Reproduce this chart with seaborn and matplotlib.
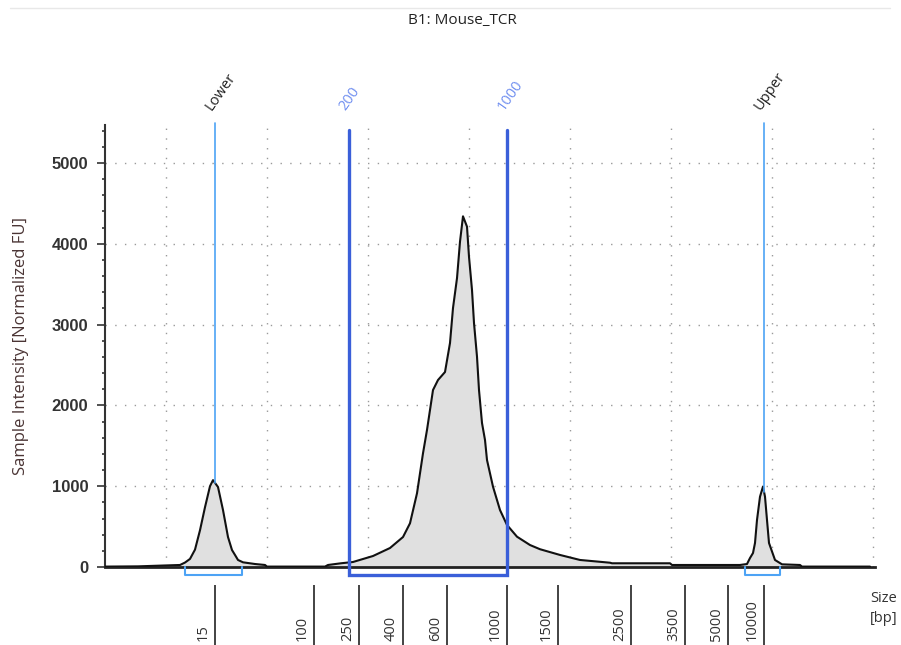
import numpy as np
import pandas as pd
import matplotlib
matplotlib.use("Agg")
import matplotlib.pyplot as plt
import matplotlib.transforms as mtransforms
from matplotlib.lines import Line2D
import seaborn as sns

# electropherogram trace (migration position, normalized FU)
trace_pos = [0, 33, 75, 80, 85, 90, 95, 100, 105, 108, 113, 118, 123, 127, 130, 133,
             138, 150, 160, 162, 220, 223, 236, 248, 268, 285, 298, 305, 312, 318,
             322, 325, 328, 333, 340, 345, 348, 352, 355, 358, 362, 364, 367, 369,
             372, 374, 377, 380, 382, 388, 395, 402, 412, 425, 435, 455, 475, 505,
             507, 565, 567, 635, 642, 645, 648, 650, 652, 655, 658, 660, 662, 664,
             670, 677, 695, 697, 765]
trace_fu = [5, 8, 25, 55, 100, 215, 455, 740, 1000, 1075, 990, 705, 371, 210, 149, 87,
            58, 37, 25, 5, 5, 25, 46, 62, 136, 235, 371, 541, 912, 1407,
            1696, 1943, 2190, 2314, 2413, 2772, 3205, 3574, 4026, 4340, 4212, 3840, 3428, 3020,
            2603, 2190, 1782, 1572, 1324, 994, 705, 520, 375, 272, 220, 149, 87, 53,
            46, 46, 25, 25, 37, 111, 173, 297, 582, 870, 996, 870, 582, 297,
            87, 33, 25, 5, 5]

# size ladder on the x axis
ladder_pos = [110, 209, 254, 298, 342, 402, 453, 526, 580, 623, 659]
ladder_bp = ["15", "100", "250", "400", "600", "1000", "1500", "2500", "3500", "5000", "10000"]

# markers and regions
marker_names = ["Lower", "Upper"]
marker_pos = [110, 659]
marker_ranges = [(80, 137), (640, 675)]
region_names = ["200", "1000"]
region_pos = [244, 402]

grid_pos = [61, 162, 263, 364, 465, 566, 667, 768]
y_ticks = [0, 1000, 2000, 3000, 4000, 5000]

df = pd.DataFrame({"pos": trace_pos, "fu": trace_fu})

sns.set_theme(style="white")
plt.rcParams["font.family"] = ["Liberation Sans", "DejaVu Sans"]

fig = plt.figure(figsize=(9.01, 6.45), dpi=100)
ax = fig.add_axes([105 / 901, 78 / 645, 770 / 901, 442 / 645])

ax.fill_between(df["pos"], 0, df["fu"], color="#e0e0e0", lw=0, zorder=1)
sns.lineplot(data=df, x="pos", y="fu", ax=ax, color="#111111", lw=1.5, sort=False, zorder=3)

ax.set_xlim(0, 770)
ax.set_ylim(0, 5470)

# dotted grid
for g in grid_pos:
    ax.axvline(g, color="#9a9a9a", lw=1, ls=(0, (1, 6)), zorder=0)
for t in y_ticks[1:]:
    ax.axhline(t, color="#9a9a9a", lw=1, ls=(0, (1, 6)), zorder=0)

ax.set_yticks(y_ticks)
ax.set_yticks(np.arange(0, 5470, 200), minor=True)
ax.set_xticks([])
ax.tick_params(axis="y", which="major", length=6, width=1.2, color="#333333",
               direction="out", pad=6, labelsize=12, labelcolor="#333333", left=True)
ax.tick_params(axis="y", which="minor", length=2.5, width=1.2, color="#333333",
               direction="out", left=True)
for lab in ax.get_yticklabels():
    lab.set_fontweight("bold")

for s in ["top", "right"]:
    ax.spines[s].set_visible(False)
ax.spines["left"].set_color("#333333")
ax.spines["left"].set_linewidth(1.5)
ax.spines["bottom"].set_color("#222222")
ax.spines["bottom"].set_linewidth(2)

ax.set_xlabel("")
ax.set_ylabel("Sample Intensity [Normalized FU]", fontsize=12, color="#4a3434",
              family=["Open Sans", "DejaVu Sans"])
ax.yaxis.set_label_coords(-76 / 770, 0.5)

trans = mtransforms.blended_transform_factory(ax.transData, ax.transAxes)

# ladder ticks and labels below the axis
ax.vlines(ladder_pos, -0.177, -0.041, transform=trans, color="#222222", lw=1.2, clip_on=False)
for p, lab in zip(ladder_pos, ladder_bp):
    ax.text(p - 4, -0.167, lab, transform=trans, rotation=90, ha="right", va="bottom",
            fontsize=10.5, color="#333333", family=["Open Sans", "DejaVu Sans"])

# lower / upper markers
light_blue = "#4da3f5"
for name, p, (a, b) in zip(marker_names, marker_pos, marker_ranges):
    peak = np.interp(p, trace_pos, trace_fu)
    ax.plot([p, p], [peak, 5495], color=light_blue, lw=1.2, zorder=4, clip_on=False)
    ax.plot([a, a, b, b], [0, -0.018, -0.018, 0], transform=trans, color=light_blue,
            lw=1.5, clip_on=False, zorder=5)
    ax.text(p, 1.027, name, transform=trans, rotation=55, rotation_mode="anchor",
            ha="left", va="bottom", fontsize=10.5, color="#222222",
            family=["Open Sans", "DejaVu Sans"])

# 200 - 1000 region
royal = "#3a5fd9"
r0, r1 = region_pos
ax.plot([r0, r0, r1, r1], [0.989, -0.018, -0.018, 0.989], transform=trans, color=royal,
        lw=2.4, clip_on=False, zorder=5, solid_joinstyle="miter")
for name, p in zip(region_names, region_pos):
    ax.text(p, 1.027, name, transform=trans, rotation=55, rotation_mode="anchor",
            ha="left", va="bottom", fontsize=10.5, color="#6f8ef0",
            family=["Open Sans", "DejaVu Sans"])

fig.text(870 / 901, 1 - 591 / 645, "Size\n[bp]", ha="left", va="top", fontsize=10.5,
         color="#333333", linespacing=1.5, family=["Open Sans", "DejaVu Sans"])
fig.text(462 / 901, 1 - 20 / 645, "B1: Mouse_TCR", ha="center", va="center", fontsize=11,
         color="#222222", family=["Open Sans", "DejaVu Sans"])
fig.add_artist(Line2D([10 / 901, 890 / 901], [1 - 8 / 645, 1 - 8 / 645],
                      transform=fig.transFigure, color="#e8e8e8", lw=1))

fig.savefig("out.png", dpi=100)
